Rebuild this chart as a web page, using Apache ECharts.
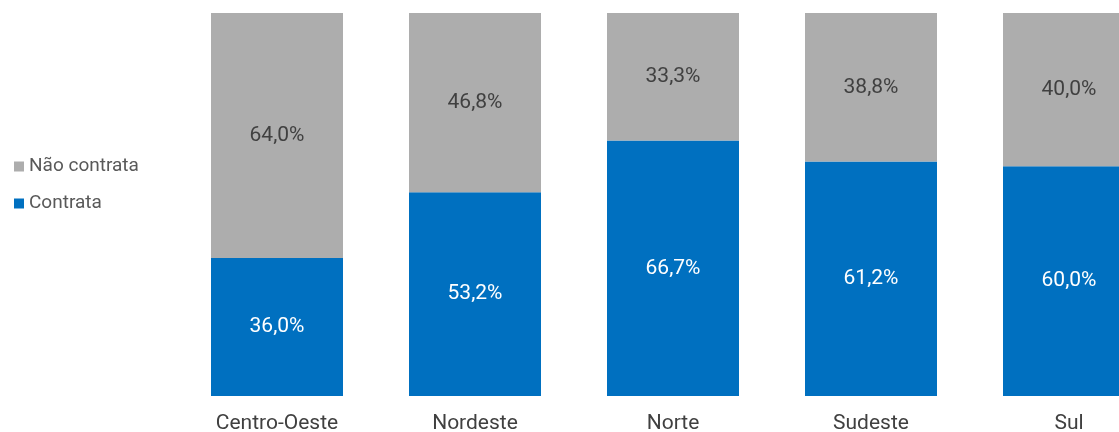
<!DOCTYPE html>
<html><head><meta charset="utf-8">
<script src="https://cdn.jsdelivr.net/npm/echarts@6/dist/echarts.min.js"></script>
<style>html,body{margin:0;padding:0;background:#fff}#c{width:1119px;height:432px}</style>
</head><body><div id="c"></div>
<script>
const categories = ["Centro-Oeste", "Nordeste", "Norte", "Sudeste", "Sul"];
const contrata = [36.0, 53.2, 66.7, 61.2, 60.0];
const naoContrata = [64.0, 46.8, 33.3, 38.8, 40.0];
const seriesNames = ["Contrata", "Não contrata"];

const fmt = p => p.value.toFixed(1).replace('.', ',') + '%';
const chart = echarts.init(document.getElementById('c'));
chart.setOption({
  animation: false,
  textStyle: { fontFamily: 'Roboto' },
  legend: {
    orient: 'vertical', left: 9, top: 152,
    data: [seriesNames[1], seriesNames[0]],
    icon: 'rect', itemWidth: 10, itemHeight: 10, itemGap: 18,
    textStyle: { fontSize: 19, color: '#595959', fontFamily: 'Roboto' },
    itemStyle: { borderWidth: 0 }
  },
  grid: { left: 178, width: 990, top: 13, bottom: 36, outerBoundsMode: 'none', containLabel: false },
  xAxis: {
    type: 'category', data: categories,
    axisLine: { show: false }, axisTick: { show: false },
    axisLabel: { fontSize: 21, color: '#404040', margin: 17, fontFamily: 'Roboto' }
  },
  yAxis: { type: 'value', min: 0, max: 100, show: false, splitLine: { show: false } },
  series: [
    {
      name: seriesNames[0], type: 'bar', stack: 's', data: contrata, barWidth: 132,
      itemStyle: { color: '#0070C0' },
      label: { show: true, position: 'inside', formatter: fmt, color: '#ffffff', fontSize: 21, fontFamily: 'Roboto' }
    },
    {
      name: seriesNames[1], type: 'bar', stack: 's', data: naoContrata, barWidth: 132,
      itemStyle: { color: '#ADADAD' },
      label: { show: true, position: 'inside', formatter: fmt, color: '#404040', fontSize: 21, fontFamily: 'Roboto' }
    }
  ]
});
</script></body></html>
